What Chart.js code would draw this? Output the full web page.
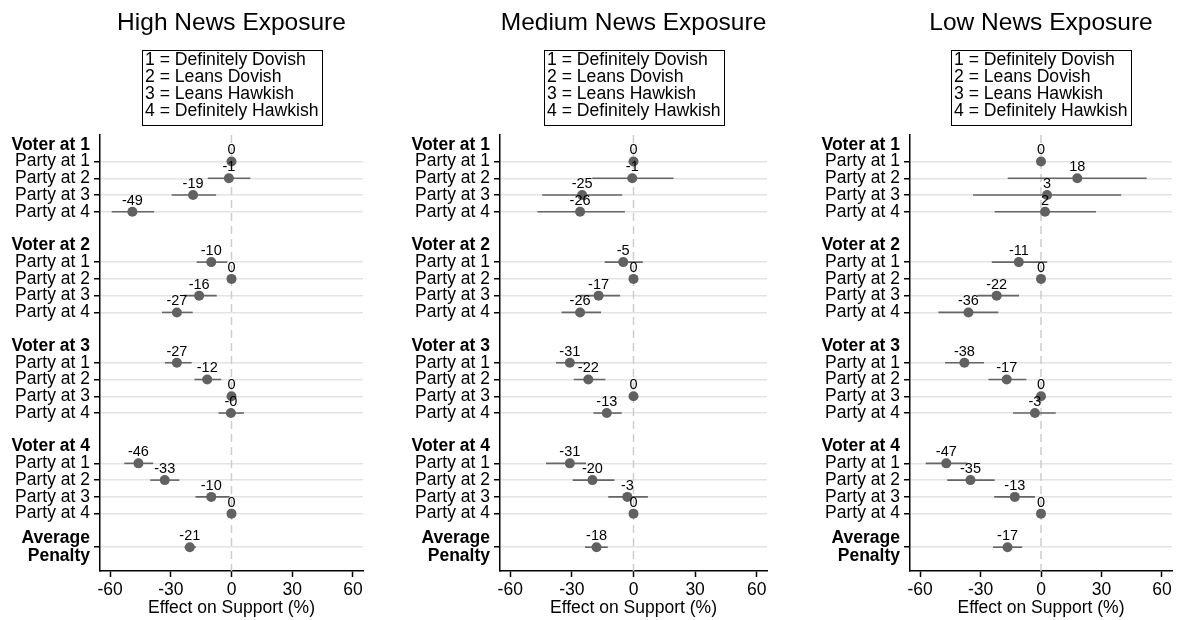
<!DOCTYPE html>
<html>
<head>
<meta charset="utf-8">
<title>Effect on Support by News Exposure</title>
<script src="https://cdn.jsdelivr.net/npm/chart.js@4.4.1/dist/chart.umd.min.js"></script>
<style>
    html, body { margin: 0; padding: 0; background: #fff; }
    #wrap { position: relative; width: 1177px; height: 620px; overflow: hidden; }
    #wrap canvas { position: absolute; top: 0; }
</style>
</head>
<body>
<div id="wrap">
    <canvas id="chart-high" width="370" height="620" style="left:0px"></canvas>
    <canvas id="chart-medium" width="375" height="620" style="left:400px"></canvas>
    <canvas id="chart-low" width="367" height="620" style="left:810px"></canvas>
</div>
<script>
    // Row labels of the y axis (blank strings are spacer rows)
    var rowLabels = [
        'Voter at 1', 'Party at 1', 'Party at 2', 'Party at 3', 'Party at 4', '',
        'Voter at 2', 'Party at 1', 'Party at 2', 'Party at 3', 'Party at 4', '',
        'Voter at 3', 'Party at 1', 'Party at 2', 'Party at 3', 'Party at 4', '',
        'Voter at 4', 'Party at 1', 'Party at 2', 'Party at 3', 'Party at 4', '',
        ['Average', 'Penalty']
    ];
    // Which row each estimate sits on
    var dataRows = [1, 2, 3, 4, 7, 8, 9, 10, 13, 14, 15, 16, 19, 20, 21, 22, 24];
    var xTicks = [-60, -30, 0, 30, 60];
    var legendLines = ['1 = Definitely Dovish', '2 = Leans Dovish', '3 = Leans Hawkish', '4 = Definitely Hawkish'];

    // High news exposure
    var highEst = [0, -1.3, -19, -49, -10, 0, -16, -27, -27, -12, 0, -0.3, -46, -33, -10, 0, -20.6];
    var highLo  = [0, -11.7, -29.6, -59.2, -17.2, 0, -23.6, -34.4, -32.9, -18.3, 0, -6.4, -53, -40.2, -17.8, 0, -23.2];
    var highHi  = [0, 9.3, -7.6, -38.2, -2.1, 0, -7.3, -19.2, -19.7, -5.1, 0, 6.1, -38.7, -25.8, -1, 0, -17.6];

    // Medium news exposure
    var medEst = [0, -0.6, -25, -26, -5, 0, -17, -26, -31, -22, 0, -13, -31, -20, -3, 0, -18];
    var medLo  = [0, -20.1, -44.5, -46.8, -14, 0, -26.3, -35, -37.7, -29.1, 0, -19.5, -42.6, -29.6, -12.3, 0, -23.6];
    var medHi  = [0, 19.5, -5.5, -4.2, 4.5, 0, -6.5, -15.8, -23.4, -13.7, 0, -5.7, -23.1, -9.3, 7, 0, -12.5];

    // Low news exposure
    var lowEst = [0, 18, 3, 2, -11, 0, -22, -36, -38, -17, 0, -3, -47, -35, -13, 0, -16.6];
    var lowLo  = [0, -16.5, -33.7, -23, -24.4, 0, -31.6, -50.9, -47.6, -26.1, 0, -13.9, -57.2, -46.5, -23.2, 0, -23.8];
    var lowHi  = [0, 52.4, 39.8, 27.3, 3.1, 0, -10.9, -21.2, -28.3, -7.3, 0, 7.3, -36.5, -23, -3, 0, -9.3];

    var fontFamily = '"Liberation Sans", Arial, Helvetica, sans-serif';
    Chart.defaults.font.family = fontFamily;
    Chart.defaults.color = '#000';

    function formatValue(v) {
        var r = Math.round(v);
        return (v < 0 ? '-' : '') + Math.abs(r);
    }

    function isMarkRow(value) {
        return dataRows.indexOf(value) >= 0;
    }

    function isBoldRow(value) {
        var label = rowLabels[value];
        return typeof label !== 'string' || label.indexOf('Voter') === 0;
    }

    function makePanel(canvasId, title, est, lo, hi, rightPad) {
        var points = est.map(function(v, i) {
            return { x: v, y: dataRows[i] };
        });

        // Zero reference line, confidence intervals and value labels
        var markPlugin = {
            id: 'marks',
            beforeDatasetsDraw: function(chart) {
                var ctx = chart.ctx, xs = chart.scales.x, ys = chart.scales.y, area = chart.chartArea;
                ctx.save();
                ctx.strokeStyle = '#cdcdcd';
                ctx.lineWidth = 1.5;
                ctx.setLineDash([8, 5]);
                var x0 = xs.getPixelForValue(0);
                ctx.beginPath();
                ctx.moveTo(x0, area.top);
                ctx.lineTo(x0, area.bottom);
                ctx.stroke();
                ctx.setLineDash([]);
                ctx.strokeStyle = '#666';
                ctx.lineWidth = 1.6;
                lo.forEach(function(l, i) {
                    if (l === hi[i]) return;
                    var y = ys.getPixelForValue(dataRows[i]);
                    ctx.beginPath();
                    ctx.moveTo(xs.getPixelForValue(l), y);
                    ctx.lineTo(xs.getPixelForValue(hi[i]), y);
                    ctx.stroke();
                });
                ctx.restore();
            },
            afterDatasetsDraw: function(chart) {
                var ctx = chart.ctx, xs = chart.scales.x, ys = chart.scales.y;
                ctx.save();
                ctx.fillStyle = '#000';
                ctx.font = '14.5px ' + fontFamily;
                ctx.textAlign = 'center';
                ctx.textBaseline = 'middle';
                est.forEach(function(v, i) {
                    ctx.fillText(formatValue(v), xs.getPixelForValue(v), ys.getPixelForValue(dataRows[i]) - 11);
                });
                ctx.restore();
            },
            afterDraw: function(chart) {
                var ctx = chart.ctx, area = chart.chartArea;
                var cx = (area.left + area.right) / 2;
                ctx.save();
                ctx.fillStyle = '#000';
                ctx.textBaseline = 'middle';
                ctx.textAlign = 'center';
                ctx.font = '24.5px ' + fontFamily;
                ctx.fillText(title, cx, 23);

                ctx.font = '17.6px ' + fontFamily;
                var w = 0;
                legendLines.forEach(function(t) {
                    w = Math.max(w, ctx.measureText(t).width);
                });
                w = Math.round(w + 6);
                var left = Math.round(cx - w / 2);
                ctx.strokeStyle = '#000';
                ctx.lineWidth = 1;
                ctx.strokeRect(left + 0.5, 50.5, w, 75);
                ctx.textAlign = 'left';
                legendLines.forEach(function(t, i) {
                    ctx.fillText(t, left + 3, 60.5 + i * 17);
                });
                ctx.restore();
            }
        };

        return new Chart(document.getElementById(canvasId), {
            type: 'scatter',
            data: {
                datasets: [{
                    data: points,
                    pointRadius: 5,
                    pointHoverRadius: 5,
                    backgroundColor: '#616161',
                    borderWidth: 0
                }]
            },
            options: {
                responsive: false,
                animation: false,
                events: [],
                layout: { padding: { top: 135, right: rightPad, left: 0, bottom: 0 } },
                plugins: {
                    legend: { display: false },
                    tooltip: { enabled: false },
                    title: { display: false }
                },
                scales: {
                    x: {
                        type: 'linear',
                        min: -65,
                        max: 65,
                        afterBuildTicks: function(scale) {
                            scale.ticks = xTicks.map(function(v) { return { value: v }; });
                        },
                        afterFit: function(scale) { scale.height = 49; },
                        ticks: {
                            color: '#000',
                            padding: 3,
                            maxRotation: 0,
                            autoSkip: false,
                            font: { size: 17.5 },
                            callback: function(v) { return String(v); }
                        },
                        grid: {
                            drawOnChartArea: false,
                            drawTicks: true,
                            tickLength: 6,
                            tickColor: '#000',
                            tickWidth: 1.5
                        },
                        border: { color: '#000', width: 1.5 },
                        title: {
                            display: true,
                            text: 'Effect on Support (%)',
                            color: '#000',
                            font: { size: 17.5 },
                            padding: { top: 0, bottom: 1 }
                        }
                    },
                    y: {
                        type: 'linear',
                        reverse: true,
                        min: -0.58,
                        max: 25.42,
                        afterBuildTicks: function(scale) {
                            scale.ticks = rowLabels.map(function(l, i) { return { value: i }; });
                        },
                        afterFit: function(scale) { scale.width = 100; },
                        ticks: {
                            autoSkip: false,
                            padding: 4,
                            color: '#000',
                            callback: function(v) { return rowLabels[v]; },
                            font: function(c) {
                                var bold = c.tick ? isBoldRow(c.tick.value) : false;
                                return { family: fontFamily, size: 17.5, weight: bold ? 'bold' : 'normal', lineHeight: 1.03 };
                            }
                        },
                        grid: {
                            lineWidth: 1.5,
                            tickLength: 6,
                            tickWidth: 1.5,
                            color: function(c) {
                                return c.tick && isMarkRow(c.tick.value) ? '#e3e3e3' : 'rgba(0,0,0,0)';
                            },
                            tickColor: function(c) {
                                return c.tick && isMarkRow(c.tick.value) ? '#000' : 'rgba(0,0,0,0)';
                            }
                        },
                        border: { color: '#000', width: 1.5 }
                    }
                }
            },
            plugins: [markPlugin]
        });
    }

    makePanel('chart-high', 'High News Exposure', highEst, highLo, highHi, 7);
    makePanel('chart-medium', 'Medium News Exposure', medEst, medLo, medHi, 8);
    makePanel('chart-low', 'Low News Exposure', lowEst, lowLo, lowHi, 3);
</script>
</body>
</html>
